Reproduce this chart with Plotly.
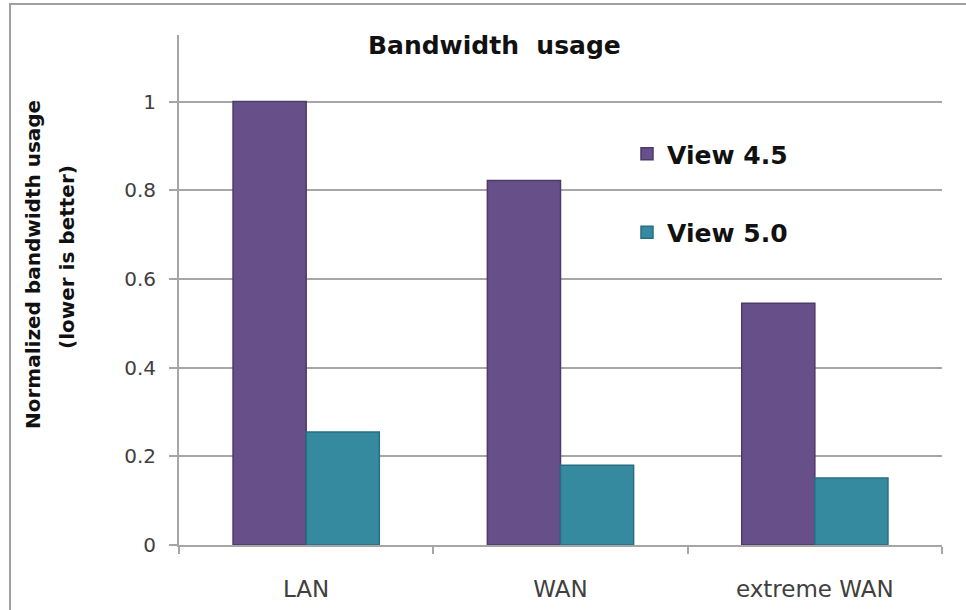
import plotly.graph_objects as go

categories = ["LAN", "WAN", "extreme WAN"]
view45 = [1.0, 0.822, 0.545]
view50 = [0.255, 0.18, 0.151]
series_names = ["View 4.5", "View 5.0"]
y_ticks = [0, 0.2, 0.4, 0.6, 0.8, 1.0]
y_tick_labels = ["0", "0.2", "0.4", "0.6", "0.8", "1"]
title_text = "Bandwidth  usage"
ytitle_lines = ["Normalized bandwidth usage", "(lower is better)"]

FONT = "DejaVu Sans"
W, H = 966, 610
ML, MR, MT, MB = 179, 24, 35, 65
pw = W - ML - MR
ph = H - MT - MB

fig = go.Figure()
fig.add_trace(go.Bar(
    x=categories, y=view45, name=series_names[0], legendgroup="a",
    marker=dict(color="#67508a", line=dict(color="#4c3a68", width=1.5)),
))
fig.add_trace(go.Bar(
    x=categories, y=view50, name=series_names[1], legendgroup="b",
    marker=dict(color="#368aa0", line=dict(color="#286e82", width=1.5)),
))

def px_x(p):
    return (p - ML) / pw

def px_y(p):
    return (H - MB - p) / ph

fig.update_layout(
    width=W, height=H,
    margin=dict(l=ML, r=MR, t=MT, b=MB),
    paper_bgcolor="white", plot_bgcolor="white",
    barmode="group", bargap=0.425, bargroupgap=0,
    font=dict(family=FONT, color="#404040"),
    showlegend=True,
    legend=dict(
        x=px_x(627), y=px_y(131), xanchor="left", yanchor="top",
        font=dict(family=FONT, size=25, color="#111111", weight="bold"),
        tracegroupgap=43, itemwidth=30, bgcolor="rgba(0,0,0,0)",
    ),
    xaxis=dict(
        showline=True, linecolor="#a6a6a6", linewidth=2,
        ticks="outside", tickson="boundaries", ticklen=7, tickcolor="#a6a6a6", tickwidth=2,
        tickfont=dict(family=FONT, size=23, color="#404040"),
        ticklabelstandoff=22, automargin=False,
        showgrid=False, fixedrange=True,
    ),
    yaxis=dict(
        range=[0, 1.15],
        tickvals=y_ticks, ticktext=y_tick_labels,
        showline=True, linecolor="#a6a6a6", linewidth=2,
        ticks="outside", ticklen=8, tickcolor="#a6a6a6", tickwidth=2,
        ticklabelstandoff=9, automargin=False,
        showgrid=True, gridcolor="#a6a6a6", gridwidth=1.5,
        zeroline=False,
        tickfont=dict(family=FONT, size=20, color="#404040"),
        fixedrange=True,
    ),
)

fig.add_annotation(
    text="<b>" + title_text + "</b>", xref="paper", yref="paper",
    x=px_x(494), y=px_y(45), xanchor="center", yanchor="middle",
    showarrow=False, font=dict(family=FONT, size=25, color="#111111"),
)

for txt, cx, cy in zip(ytitle_lines, [33, 67], [265, 257]):
    fig.add_annotation(
        text="<b>" + txt + "</b>", xref="paper", yref="paper",
        x=px_x(cx), y=px_y(cy), xanchor="center", yanchor="middle",
        textangle=-90, showarrow=False,
        font=dict(family=FONT, size=20, color="#111111"),
    )

fig.add_shape(
    type="rect", xref="paper", yref="paper",
    x0=px_x(10), x1=px_x(990), y0=px_y(640), y1=px_y(4),
    line=dict(color="#a0a0a0", width=2), layer="below",
)

fig.write_html("out.html")
